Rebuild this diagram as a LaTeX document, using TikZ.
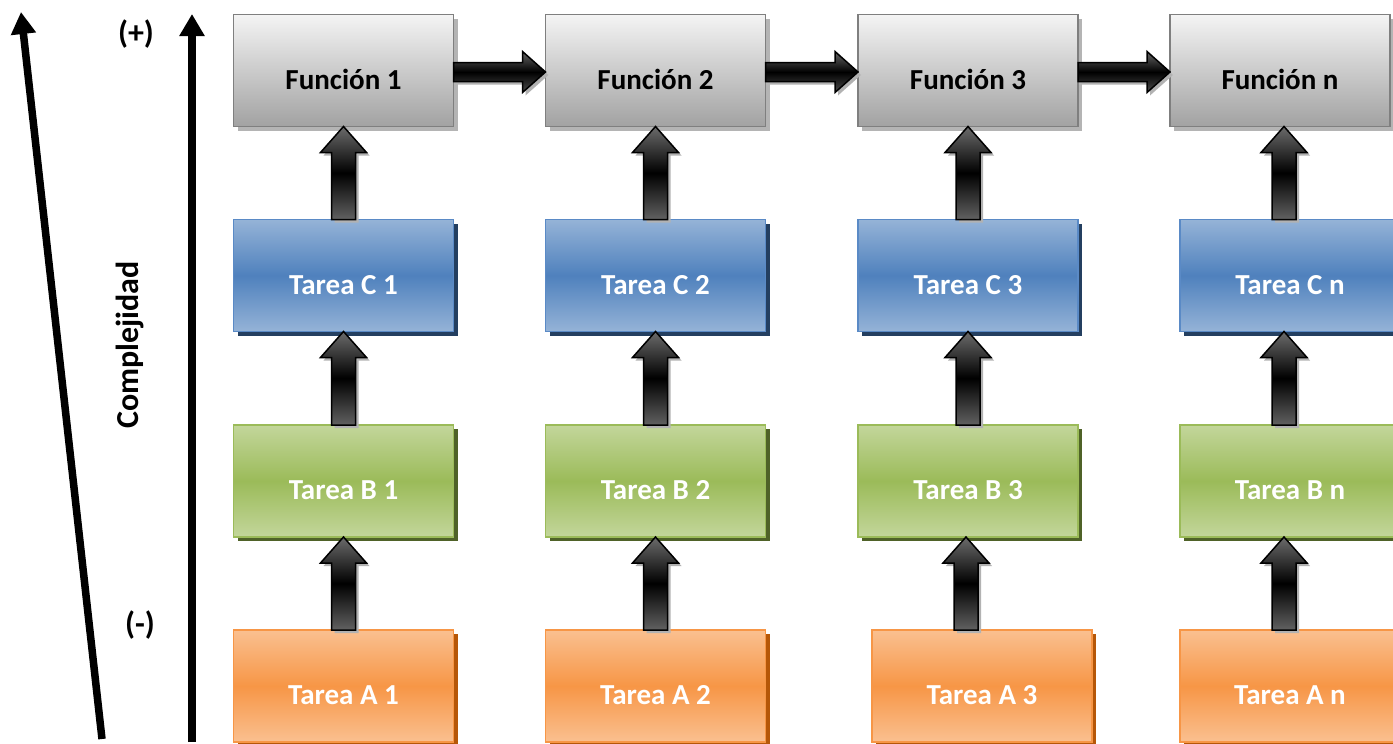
\documentclass[tikz,border=0pt]{standalone}
\usepackage{fontspec}
\setmainfont{Carlito}
\usetikzlibrary{shadows,arrows.meta,calc}
\definecolor{grayT}{HTML}{F4F4F4}
\definecolor{grayB}{HTML}{A2A2A2}
\definecolor{grayD}{HTML}{7F7F7F}
\definecolor{grayS}{HTML}{B4B4B4}
\definecolor{blueL}{HTML}{95B3D7}
\definecolor{blueM}{HTML}{4F81BD}
\definecolor{blueD}{HTML}{5A8AC6}
\definecolor{blueS}{HTML}{243F60}
\definecolor{greenL}{HTML}{C3D69B}
\definecolor{greenM}{HTML}{9BBB59}
\definecolor{greenD}{HTML}{9BBB59}
\definecolor{greenS}{HTML}{4F6228}
\definecolor{orangeL}{HTML}{FAC090}
\definecolor{orangeM}{HTML}{F79646}
\definecolor{orangeD}{HTML}{F79646}
\definecolor{orangeS}{HTML}{B65708}
\newcommand\uparr[3][0pt]{%
  \path[varr] let \p1=(#2.north), \p2=(#3.south) in
    ({\x2+#1-12pt},\y1) -- ({\x2+#1-12pt},{\y2-26pt}) -- ({\x2+#1-23pt},{\y2-26pt})
    -- ({\x2+#1},\y2) -- ({\x2+#1+23pt},{\y2-26pt}) -- ({\x2+#1+12pt},{\y2-26pt})
    -- ({\x2+#1+12pt},\y1) -- cycle;}
\newcommand\rarr[2]{%
  \path[harr] let \p1=(#1.east), \p2=(#2.west) in
    (\x1,{\y1-11pt}) -- ({\x2-23pt},{\y1-11pt}) -- ({\x2-23pt},{\y1-22pt})
    -- (\x2,{\y1-1.5pt}) -- ({\x2-23pt},{\y1+19pt}) -- ({\x2-23pt},{\y1+8pt})
    -- (\x1,{\y1+8pt}) -- cycle;}
\begin{document}
\begin{tikzpicture}[x=1pt,y=-1pt,
  base/.style={rectangle, minimum width=220pt, minimum height=112pt, line width=1.8pt,
    inner sep=0pt, outer sep=0pt, font=\bfseries\fontsize{29}{32}\selectfont,
    text height=37pt, text depth=0pt},
  fun/.style={base, draw=grayD, top color=grayT, bottom color=grayB, text=black,
    drop shadow={shadow xshift=4pt, shadow yshift=-4pt, fill=grayS, opacity=1}},
  tc/.style={base, draw=blueD, top color=blueL, bottom color=blueL, middle color=blueM, text=white,
    drop shadow={shadow xshift=4pt, shadow yshift=-4pt, fill=blueS, opacity=1}},
  tb/.style={base, draw=greenD, top color=greenL, bottom color=greenL, middle color=greenM, text=white,
    drop shadow={shadow xshift=4pt, shadow yshift=-4pt, fill=greenS, opacity=1}},
  ta/.style={base, draw=orangeD, top color=orangeL, bottom color=orangeL, middle color=orangeM, text=white,
    drop shadow={shadow xshift=4pt, shadow yshift=-4pt, fill=orangeS, opacity=1}},
  varr/.style={draw=black, line width=1.5pt, top color=black!58, bottom color=black!62, middle color=black,
    drop shadow={shadow xshift=3pt, shadow yshift=-3pt, fill=black!30, opacity=1}},
  harr/.style={draw=black, line width=1.5pt, top color=black!60, bottom color=black!70, middle color=black,
    drop shadow={shadow xshift=3pt, shadow yshift=-3pt, fill=black!30, opacity=1}},
  axis/.style={line width=7.5pt, -{Triangle[length=22pt,width=24pt]}},
  lbl/.style={font=\bfseries\fontsize{32}{36}\selectfont, inner sep=0pt}
]
\useasboundingbox (0,0) rectangle (1393,744);

% axes
\coordinate (s1) at (102,739);
\coordinate (e1) at (21,12);
\coordinate (s2) at (192,742);
\coordinate (e2) at (192,14);
\draw[axis] (s1) -- (e1);
\draw[axis] (s2) -- (e2);
\node[lbl] (plus) at (136,34) {(+)};
\node[lbl] (minus) at (140,625) {(-)};
\node[lbl, rotate=90] (comp) at (130,345) {Complejidad};

% row Funcion
\node[fun] (f1) at (343.5,70.5) {Función 1};
\node[fun] (f2) at (655.5,70.5) {Función 2};
\node[fun] (f3) at (968,70.5) {Función 3};
\node[fun] (f4) at (1280,70.5) {Función n};
% row C
\node[tc] (c1) at (343.5,275.5) {Tarea C 1};
\node[tc] (c2) at (655.5,275.5) {Tarea C 2};
\node[tc] (c3) at (968,275.5) {Tarea C 3};
\node[tc] (c4) at (1290,275.5) {Tarea C n};
% row B
\node[tb] (b1) at (343.5,481) {Tarea B 1};
\node[tb] (b2) at (655.5,481) {Tarea B 2};
\node[tb] (b3) at (968,481) {Tarea B 3};
\node[tb] (b4) at (1290,481) {Tarea B n};
% row A
\node[ta] (a1) at (343.5,686) {Tarea A 1};
\node[ta] (a2) at (655.5,686) {Tarea A 2};
\node[ta] (a3) at (982,686) {Tarea A 3};
\node[ta] (a4) at (1290,686) {Tarea A n};

% horizontal arrows
\rarr{f1}{f2}
\rarr{f2}{f3}
\rarr{f3}{f4}

% vertical arrows
\uparr{c1}{f1}
\uparr{b1}{c1}
\uparr{a1}{b1}
\uparr{c2}{f2}
\uparr{b2}{c2}
\uparr{a2}{b2}
\uparr{c3}{f3}
\uparr{b3}{c3}
\uparr[-2pt]{a3}{b3}
\uparr[4pt]{c4}{f4}
\uparr[-6pt]{b4}{c4}
\uparr[-6pt]{a4}{b4}
\end{tikzpicture}
\end{document}
